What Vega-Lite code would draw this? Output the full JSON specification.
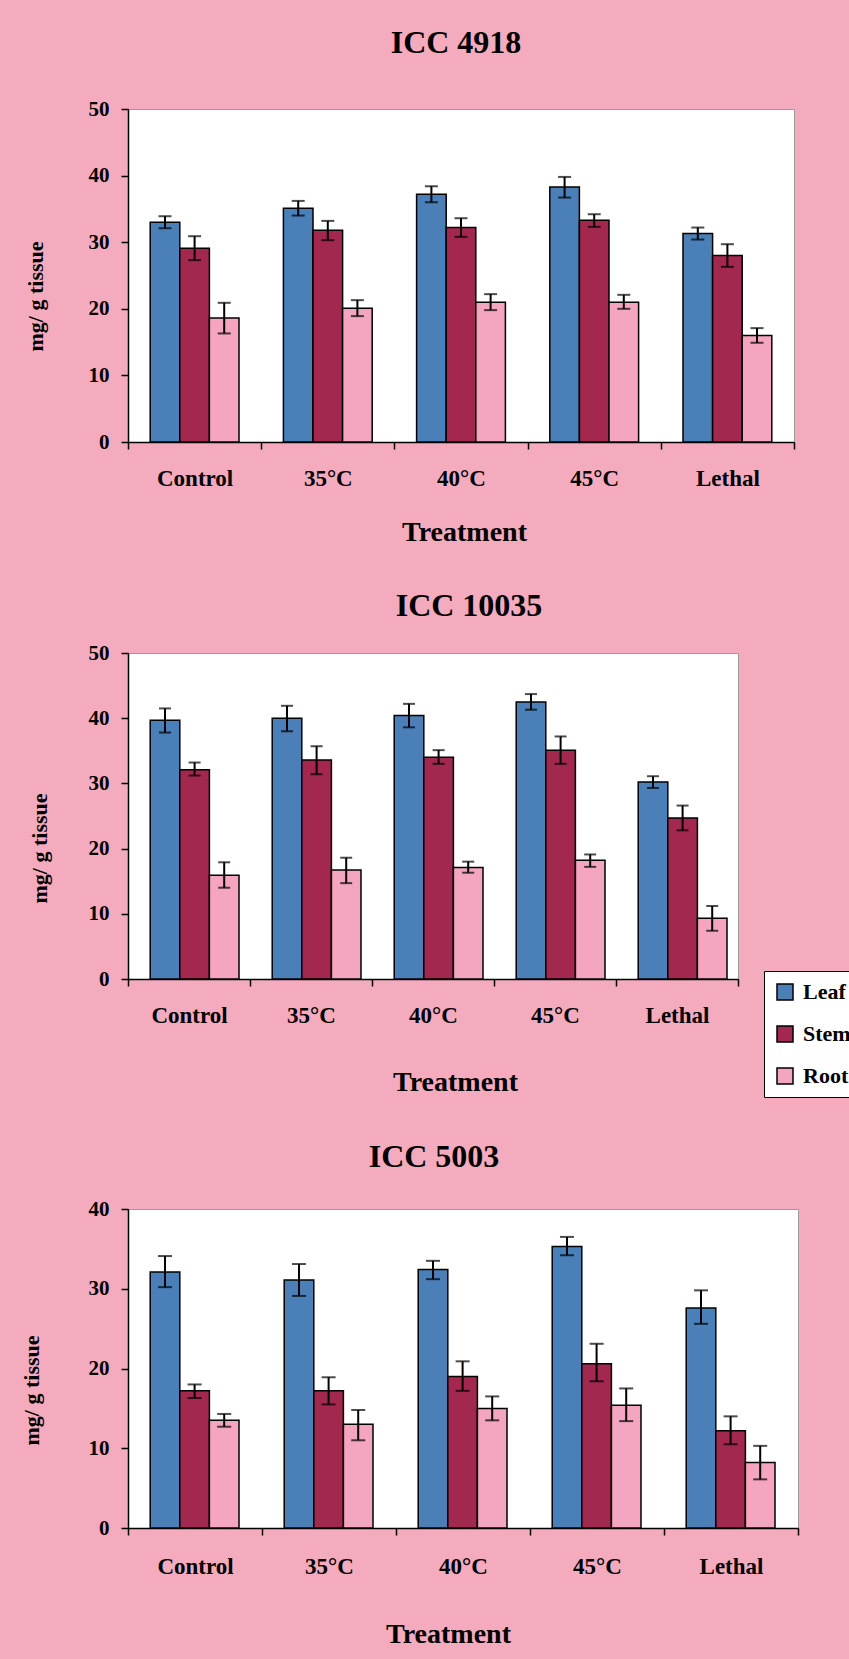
{
  "$schema": "https://vega.github.io/schema/vega-lite/v6.json",
  "background": "#f4abbe",
  "padding": {"left": 19, "top": 26, "right": 0, "bottom": 20},
  "datasets": {
    "all": [
      {"panel": "ICC 4918", "treatment": "Control", "part": "Leaf", "value": 33.0, "lo": 32.1, "hi": 33.9},
      {"panel": "ICC 4918", "treatment": "Control", "part": "Stem", "value": 29.1, "lo": 27.3, "hi": 30.9},
      {"panel": "ICC 4918", "treatment": "Control", "part": "Root", "value": 18.6, "lo": 16.3, "hi": 20.9},
      {"panel": "ICC 4918", "treatment": "35°C", "part": "Leaf", "value": 35.1, "lo": 34.0, "hi": 36.2},
      {"panel": "ICC 4918", "treatment": "35°C", "part": "Stem", "value": 31.8, "lo": 30.3, "hi": 33.2},
      {"panel": "ICC 4918", "treatment": "35°C", "part": "Root", "value": 20.1, "lo": 18.9, "hi": 21.3},
      {"panel": "ICC 4918", "treatment": "40°C", "part": "Leaf", "value": 37.2, "lo": 36.0, "hi": 38.4},
      {"panel": "ICC 4918", "treatment": "40°C", "part": "Stem", "value": 32.2, "lo": 30.8, "hi": 33.6},
      {"panel": "ICC 4918", "treatment": "40°C", "part": "Root", "value": 21.0, "lo": 19.8, "hi": 22.2},
      {"panel": "ICC 4918", "treatment": "45°C", "part": "Leaf", "value": 38.3, "lo": 36.7, "hi": 39.8},
      {"panel": "ICC 4918", "treatment": "45°C", "part": "Stem", "value": 33.3, "lo": 32.3, "hi": 34.2},
      {"panel": "ICC 4918", "treatment": "45°C", "part": "Root", "value": 21.0, "lo": 20.0, "hi": 22.1},
      {"panel": "ICC 4918", "treatment": "Lethal", "part": "Leaf", "value": 31.3, "lo": 30.4, "hi": 32.2},
      {"panel": "ICC 4918", "treatment": "Lethal", "part": "Stem", "value": 28.0, "lo": 26.3, "hi": 29.7},
      {"panel": "ICC 4918", "treatment": "Lethal", "part": "Root", "value": 16.0, "lo": 14.9, "hi": 17.1},
      {"panel": "ICC 10035", "treatment": "Control", "part": "Leaf", "value": 39.7, "lo": 37.8, "hi": 41.5},
      {"panel": "ICC 10035", "treatment": "Control", "part": "Stem", "value": 32.1, "lo": 31.2, "hi": 33.2},
      {"panel": "ICC 10035", "treatment": "Control", "part": "Root", "value": 15.9, "lo": 14.0, "hi": 17.9},
      {"panel": "ICC 10035", "treatment": "35°C", "part": "Leaf", "value": 40.0, "lo": 38.0, "hi": 41.9},
      {"panel": "ICC 10035", "treatment": "35°C", "part": "Stem", "value": 33.6, "lo": 31.4, "hi": 35.7},
      {"panel": "ICC 10035", "treatment": "35°C", "part": "Root", "value": 16.7, "lo": 14.7, "hi": 18.6},
      {"panel": "ICC 10035", "treatment": "40°C", "part": "Leaf", "value": 40.4, "lo": 38.6, "hi": 42.2},
      {"panel": "ICC 10035", "treatment": "40°C", "part": "Stem", "value": 34.0, "lo": 33.0, "hi": 35.1},
      {"panel": "ICC 10035", "treatment": "40°C", "part": "Root", "value": 17.1, "lo": 16.3, "hi": 18.0},
      {"panel": "ICC 10035", "treatment": "45°C", "part": "Leaf", "value": 42.5, "lo": 41.3, "hi": 43.7},
      {"panel": "ICC 10035", "treatment": "45°C", "part": "Stem", "value": 35.1, "lo": 33.0, "hi": 37.2},
      {"panel": "ICC 10035", "treatment": "45°C", "part": "Root", "value": 18.2, "lo": 17.2, "hi": 19.1},
      {"panel": "ICC 10035", "treatment": "Lethal", "part": "Leaf", "value": 30.2, "lo": 29.3, "hi": 31.1},
      {"panel": "ICC 10035", "treatment": "Lethal", "part": "Stem", "value": 24.7, "lo": 22.8, "hi": 26.6},
      {"panel": "ICC 10035", "treatment": "Lethal", "part": "Root", "value": 9.3, "lo": 7.4, "hi": 11.2},
      {"panel": "ICC 5003", "treatment": "Control", "part": "Leaf", "value": 32.1, "lo": 30.2, "hi": 34.1},
      {"panel": "ICC 5003", "treatment": "Control", "part": "Stem", "value": 17.2, "lo": 16.3, "hi": 18.0},
      {"panel": "ICC 5003", "treatment": "Control", "part": "Root", "value": 13.5, "lo": 12.7, "hi": 14.3},
      {"panel": "ICC 5003", "treatment": "35°C", "part": "Leaf", "value": 31.1, "lo": 29.1, "hi": 33.1},
      {"panel": "ICC 5003", "treatment": "35°C", "part": "Stem", "value": 17.2, "lo": 15.5, "hi": 18.9},
      {"panel": "ICC 5003", "treatment": "35°C", "part": "Root", "value": 13.0, "lo": 11.0, "hi": 14.8},
      {"panel": "ICC 5003", "treatment": "40°C", "part": "Leaf", "value": 32.4, "lo": 31.2, "hi": 33.5},
      {"panel": "ICC 5003", "treatment": "40°C", "part": "Stem", "value": 19.0, "lo": 17.2, "hi": 20.9},
      {"panel": "ICC 5003", "treatment": "40°C", "part": "Root", "value": 15.0, "lo": 13.5, "hi": 16.5},
      {"panel": "ICC 5003", "treatment": "45°C", "part": "Leaf", "value": 35.3, "lo": 34.2, "hi": 36.5},
      {"panel": "ICC 5003", "treatment": "45°C", "part": "Stem", "value": 20.6, "lo": 18.4, "hi": 23.1},
      {"panel": "ICC 5003", "treatment": "45°C", "part": "Root", "value": 15.4, "lo": 13.4, "hi": 17.5},
      {"panel": "ICC 5003", "treatment": "Lethal", "part": "Leaf", "value": 27.6, "lo": 25.6, "hi": 29.8},
      {"panel": "ICC 5003", "treatment": "Lethal", "part": "Stem", "value": 12.2, "lo": 10.5, "hi": 14.0},
      {"panel": "ICC 5003", "treatment": "Lethal", "part": "Root", "value": 8.2, "lo": 6.1, "hi": 10.3}
    ]
  },
  "data": {"name": "all"},
  "spacing": 42,
  "resolve": {"scale": {"color": "independent"}, "legend": {"color": "independent"}},
  "config": {
    "font": "Liberation Serif",
    "view": {"stroke": "#9c9c9c", "strokeWidth": 1, "fill": "white"},
    "title": {"font": "Liberation Serif", "fontWeight": "bold", "fontSize": 32, "color": "black", "anchor": "middle", "frame": "group"},
    "axis": {"labelFont": "Liberation Serif", "labelFontWeight": "bold", "labelColor": "black", "titleFont": "Liberation Serif", "titleFontWeight": "bold", "titleColor": "black", "domainColor": "black", "tickColor": "black", "domainWidth": 1.5, "tickWidth": 1.5, "tickSize": 7, "grid": false},
    "axisX": {"labelAngle": 0, "labelFontSize": 23, "titleFontSize": 28, "tickBand": "extent", "labelPadding": 18, "titleBaseline": "middle", "titleAlign": "center"},
    "axisY": {"labelFontSize": 21, "titleFontSize": 22, "labelPadding": 12, "titleBaseline": "middle", "titleAlign": "center", "titleAngle": -90}
  },
  "vconcat": [
    {
      "title": {"text": "ICC 4918", "offset": 38, "dx": -5},
      "width": 666, "height": 333,
      "transform": [{"filter": "datum.panel === 'ICC 4918'"}],
      "encoding": {
        "x": {"field": "treatment", "type": "nominal", "sort": ["Control", "35°C", "40°C", "45°C", "Lethal"], "scale": {"paddingInner": 0, "paddingOuter": 0}, "title": "Treatment", "axis": {"titleX": 336, "titleY": 90}},
        "xOffset": {"field": "part", "type": "nominal", "sort": ["Leaf", "Stem", "Root"], "scale": {"paddingInner": 0, "paddingOuter": 0.75}}
      },
      "layer": [
        {"mark": {"type": "bar", "stroke": "black", "strokeWidth": 1.5},
         "encoding": {
           "y": {"field": "value", "type": "quantitative", "scale": {"domain": [0, 50], "nice": false}, "title": "mg/ g tissue", "axis": {"values": [0, 10, 20, 30, 40, 50], "titleX": -93, "titleY": 187}},
           "color": {"field": "part", "type": "nominal", "scale": {"domain": ["Leaf", "Stem", "Root"], "range": ["#4a7fb8", "#a3284f", "#f4a6c0"]}, "legend": null}
         }},
        {"mark": {"type": "rule", "color": "black", "strokeWidth": 2},
         "encoding": {"y": {"field": "lo", "type": "quantitative", "title": "mg/ g tissue"}, "y2": {"field": "hi"}}},
        {"mark": {"type": "tick", "color": "black", "thickness": 2, "size": 13},
         "encoding": {"y": {"field": "lo", "type": "quantitative", "title": "mg/ g tissue"}}},
        {"mark": {"type": "tick", "color": "black", "thickness": 2, "size": 13},
         "encoding": {"y": {"field": "hi", "type": "quantitative", "title": "mg/ g tissue"}}}
      ]
    },
    {
      "title": {"text": "ICC 10035", "offset": 19, "dx": 36},
      "width": 610, "height": 326,
      "transform": [{"filter": "datum.panel === 'ICC 10035'"}],
      "encoding": {
        "x": {"field": "treatment", "type": "nominal", "sort": ["Control", "35°C", "40°C", "45°C", "Lethal"], "scale": {"paddingInner": 0, "paddingOuter": 0}, "title": "Treatment", "axis": {"titleX": 327, "titleY": 103}},
        "xOffset": {"field": "part", "type": "nominal", "sort": ["Leaf", "Stem", "Root"], "scale": {"paddingInner": 0, "paddingOuter": 0.83}}
      },
      "layer": [
        {"mark": {"type": "bar", "stroke": "black", "strokeWidth": 1.5},
         "encoding": {
           "y": {"field": "value", "type": "quantitative", "scale": {"domain": [0, 50], "nice": false}, "title": "mg/ g tissue", "axis": {"values": [0, 10, 20, 30, 40, 50], "titleX": -89, "titleY": 195}},
           "color": {"field": "part", "type": "nominal", "scale": {"domain": ["Leaf", "Stem", "Root"], "range": ["#4a7fb8", "#a3284f", "#f4a6c0"]},
             "legend": {"orient": "none", "legendX": 636, "legendY": 318, "title": null, "fillColor": "white", "strokeColor": "black", "padding": 10, "symbolType": "square", "symbolSize": 256, "symbolStrokeColor": "black", "symbolStrokeWidth": 1.5, "symbolOpacity": 1, "labelFont": "Liberation Serif", "labelFontWeight": "bold", "labelFontSize": 22, "labelColor": "black", "rowPadding": 20, "labelOffset": 7}}
         }},
        {"mark": {"type": "rule", "color": "black", "strokeWidth": 2},
         "encoding": {"y": {"field": "lo", "type": "quantitative", "title": "mg/ g tissue"}, "y2": {"field": "hi"}}},
        {"mark": {"type": "tick", "color": "black", "thickness": 2, "size": 12},
         "encoding": {"y": {"field": "lo", "type": "quantitative", "title": "mg/ g tissue"}}},
        {"mark": {"type": "tick", "color": "black", "thickness": 2, "size": 12},
         "encoding": {"y": {"field": "hi", "type": "quantitative", "title": "mg/ g tissue"}}}
      ]
    },
    {
      "title": {"text": "ICC 5003", "offset": 24, "dx": -29},
      "width": 670, "height": 319,
      "transform": [{"filter": "datum.panel === 'ICC 5003'"}],
      "encoding": {
        "x": {"field": "treatment", "type": "nominal", "sort": ["Control", "35°C", "40°C", "45°C", "Lethal"], "scale": {"paddingInner": 0, "paddingOuter": 0}, "title": "Treatment", "axis": {"titleX": 320, "titleY": 106, "labelPadding": 20}},
        "xOffset": {"field": "part", "type": "nominal", "sort": ["Leaf", "Stem", "Root"], "scale": {"paddingInner": 0, "paddingOuter": 0.66}}
      },
      "layer": [
        {"mark": {"type": "bar", "stroke": "black", "strokeWidth": 1.5},
         "encoding": {
           "y": {"field": "value", "type": "quantitative", "scale": {"domain": [0, 40], "nice": false}, "title": "mg/ g tissue", "axis": {"values": [0, 10, 20, 30, 40], "titleX": -97, "titleY": 181}},
           "color": {"field": "part", "type": "nominal", "scale": {"domain": ["Leaf", "Stem", "Root"], "range": ["#4a7fb8", "#a3284f", "#f4a6c0"]}, "legend": null}
         }},
        {"mark": {"type": "rule", "color": "black", "strokeWidth": 2},
         "encoding": {"y": {"field": "lo", "type": "quantitative", "title": "mg/ g tissue"}, "y2": {"field": "hi"}}},
        {"mark": {"type": "tick", "color": "black", "thickness": 2, "size": 14},
         "encoding": {"y": {"field": "lo", "type": "quantitative", "title": "mg/ g tissue"}}},
        {"mark": {"type": "tick", "color": "black", "thickness": 2, "size": 14},
         "encoding": {"y": {"field": "hi", "type": "quantitative", "title": "mg/ g tissue"}}}
      ]
    }
  ]
}
